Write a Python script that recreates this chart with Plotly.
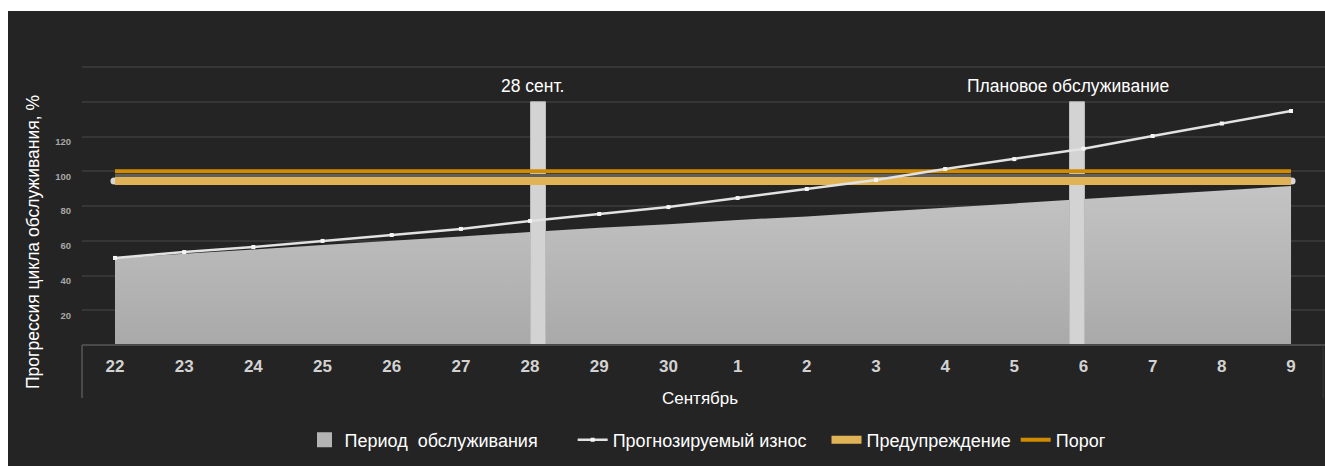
import plotly.graph_objects as go

# ---- data ----
days = ["22", "23", "24", "25", "26", "27", "28", "29", "30",
        "1", "2", "3", "4", "5", "6", "7", "8", "9"]
service_period = [50, 52.5, 55, 57.5, 60, 62.5, 65, 67.5, 69.5,
                  72, 74, 76.5, 79, 81.5, 84, 86.5, 89, 91.5]
forecast_wear = [50.1, 53.5, 56.4, 59.9, 63.3, 66.8, 71.4, 75.4, 79.4,
                 84.6, 89.8, 95.0, 101.3, 107.0, 113.0, 120.3, 127.5, 134.7]
warning_level = 94.4
threshold_level = 100
y_ticks = [0, 20, 40, 60, 80, 100, 120, 140, 160]
y_ticktext = ["", "20", "40", "60", "80", "100", "120", "", ""]
marker_days = [6.115, 13.906]     # "28 сент." and "Плановое обслуживание"
marker_top = 140
marker_labels = ["28 сент.", "Плановое обслуживание"]
marker_label_x = [6.04, 13.78]
NB = "\u00a0"

BG = "#242424"
FONT = "Liberation Sans, Arial, sans-serif"
x_idx = list(range(len(days)))
x_first, x_last = x_idx[0], x_idx[-1]

fig = go.Figure()

# area: service period
fig.add_trace(go.Scatter(
    x=x_idx, y=service_period, mode="none", fill="tozeroy",
    fillgradient=dict(type="vertical", start=0, stop=92,
                      colorscale=[[0, "#a9a9a9"], [1, "#c4c4c4"]]),
    fillcolor="#b8b8b8", showlegend=False, hoverinfo="skip",
))
# legend entry for the area (square swatch)
fig.add_trace(go.Scatter(
    x=[None], y=[None], mode="markers",
    marker=dict(symbol="square", size=15, color="#b4b4b4"),
    name="Период" + NB + " обслуживания" + NB * 6, legendrank=1,
))

# vertical marker bands
bw = 0.108
for xc in marker_days:
    fig.add_trace(go.Scatter(
        x=[xc - bw, xc + bw, xc + bw, xc - bw, xc - bw],
        y=[0, 0, marker_top, marker_top, 0],
        mode="lines", fill="toself", fillcolor="#d3d3d3",
        line=dict(color="#bcbcbc", width=1),
        showlegend=False, hoverinfo="skip",
    ))

# thin grey separator between threshold and warning
fig.add_trace(go.Scatter(
    x=[x_first, x_last], y=[97.6, 97.6], mode="lines",
    line=dict(color="#5e5e5e", width=3), showlegend=False, hoverinfo="skip",
))
# end dots of warning line
fig.add_trace(go.Scatter(
    x=[x_first - 0.015, x_last + 0.015], y=[warning_level, warning_level], mode="markers",
    marker=dict(color="#d6d6d6", size=7), showlegend=False, hoverinfo="skip",
))
# warning
fig.add_trace(go.Scatter(
    x=[x_first, x_last], y=[warning_level, warning_level], mode="lines",
    line=dict(color="#e0b456", width=8),
    name="Предупреждение", legendrank=3,
))
# threshold
fig.add_trace(go.Scatter(
    x=[x_first, x_last], y=[threshold_level, threshold_level], mode="lines",
    line=dict(color="#cf8c00", width=4),
    name="Порог", legendrank=4,
))
# forecast wear
fig.add_trace(go.Scatter(
    x=x_idx, y=forecast_wear, mode="lines+markers",
    line=dict(color="#e2e2e2", width=2.5),
    marker=dict(symbol="square", size=4, color="#f4f4f4"),
    name="Прогнозируемый износ" + NB * 3, legendrank=2,
))

annotations = []
for txt, xa in zip(marker_labels, marker_label_x):
    annotations.append(dict(x=xa, y=149, xref="x", yref="y", text=txt, showarrow=False,
                            font=dict(color="white", size=17.5, family=FONT),
                            xanchor="center", yanchor="middle"))
# axis titles
annotations.append(dict(x=(33 - 82) / 1243, y=(345 - 242) / 287, xref="paper", yref="paper",
                        text="Прогрессия цикла обслуживания, %", textangle=-90, showarrow=False,
                        font=dict(color="white", size=17.5, family=FONT),
                        xanchor="center", yanchor="middle"))
annotations.append(dict(x=(700 - 82) / 1243, y=(345 - 398) / 287, xref="paper", yref="paper",
                        text="Сентябрь", showarrow=False,
                        font=dict(color="white", size=17, family=FONT),
                        xanchor="center", yanchor="middle"))

shapes = [
    # dark panel (white strip at top and left)
    dict(type="rect", xref="paper", yref="paper", layer="below",
         x0=(8 - 82) / 1243, x1=1.01, y0=(345 - 470) / 287, y1=(345 - 11) / 287,
         fillcolor=BG, line=dict(width=0)),
    # x axis box lines
    dict(type="line", xref="paper", yref="paper", x0=0, x1=1, y0=0, y1=0,
         line=dict(color="#4a4a4a", width=2)),
    dict(type="line", xref="paper", yref="paper", x0=0, x1=0, y0=0, y1=(345 - 398) / 287,
         line=dict(color="#4a4a4a", width=2)),
    dict(type="line", xref="paper", yref="paper", x0=0.9985, x1=0.9985, y0=0, y1=(345 - 398) / 287,
         line=dict(color="#3a3a3a", width=1)),
]

fig.update_layout(
    width=1325, height=466,
    margin=dict(l=82, r=0, t=58, b=121),
    paper_bgcolor="white", plot_bgcolor=BG,
    font=dict(family=FONT, color="white"),
    showlegend=True,
    legend=dict(orientation="h", x=(708 - 82) / 1243, xanchor="center", y=(345 - 440) / 287,
                yanchor="middle",
                font=dict(size=18, color="white", family=FONT), bgcolor="rgba(0,0,0,0)",
                traceorder="normal"),
    annotations=annotations, shapes=shapes,
    xaxis=dict(range=[-0.477, 17.491], tickmode="array", tickvals=x_idx, ticktext=days,
               showgrid=False, zeroline=False, showline=False, ticks="",
               tickfont=dict(size=17, color="#d2d2d2", family=FONT, weight="bold"),
               ticklabelstandoff=9),
    yaxis=dict(range=[0, 165.2], tickmode="array", tickvals=y_ticks, ticktext=y_ticktext,
               showgrid=True, gridcolor="#363636", gridwidth=2, zeroline=False, showline=False,
               ticks="", tickfont=dict(size=9.5, color="#a8a8a8", weight="bold"),
               ticklabelstandoff=10, ticklabelshift=5),
)

fig.write_html("out.html")
